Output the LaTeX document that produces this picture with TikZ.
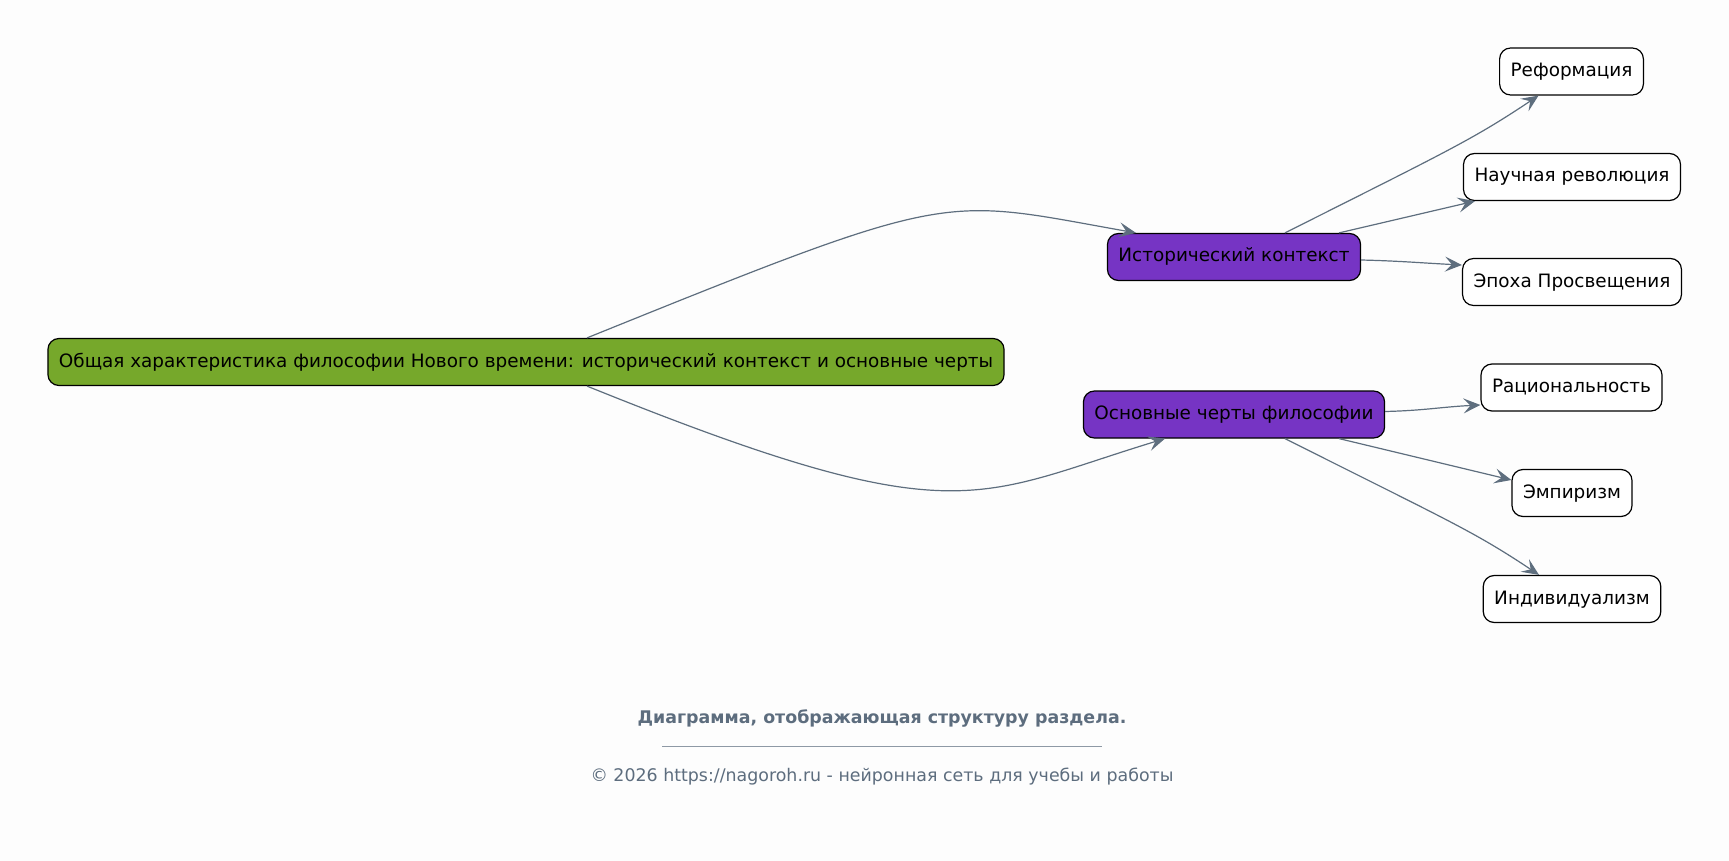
\documentclass[tikz,border=0pt]{standalone}
\usepackage{fontspec}
\setmainfont{DejaVu Sans}
\usepackage{xcolor}
\usepackage{tikz}
\usetikzlibrary{shapes.geometric, arrows.meta, positioning}
\definecolor{rootgreen}{HTML}{76A82B}
\definecolor{topicviolet}{HTML}{7634C4}
\definecolor{edgegray}{HTML}{5E6E7E}
\definecolor{footgray}{HTML}{5D6D7E}
\definecolor{paper}{HTML}{FDFDFD}
\tikzstyle{box} = [rectangle, rounded corners=5.5pt, 
minimum height=23.5pt, 
inner xsep=5.5pt, 
text height=7pt, text depth=2pt, 
text centered, 
draw=black, line width=0.6pt, 
font=\fontsize{9.2}{11}\selectfont]
\tikzstyle{root-box} = [box, fill=rootgreen]
\tikzstyle{topic-box} = [box, fill=topicviolet]
\tikzstyle{leaf-box} = [box, fill=white]
\tikzstyle{arrow} = [draw=edgegray, line width=0.6pt, ->, >={Stealth[length=8.5pt, width=7.5pt, inset=3.5pt]}]
\tikzstyle{footer} = [text=footgray, font=\fontsize{8.7}{10}\selectfont]

\begin{document}
\begin{tikzpicture}[x=0.5pt, y=-0.5pt]
            \fill [paper] (0,0) rectangle (1729,861);
            \useasboundingbox (0,0) rectangle (1729,861);

            \node (root) [root-box] at (526,362) {Общая характеристика философии Нового времени: исторический контекст и основные черты};
            \node (hist) [topic-box] at (1234,257) {Исторический контекст};
            \node (basic) [topic-box] at (1234,414.5) {Основные черты философии};

            \node (reform) [leaf-box] at (1571.5,71.5) {Реформация};
            \node (science) [leaf-box] at (1572,177) {Научная революция};
            \node (enlight) [leaf-box] at (1572,282) {Эпоха Просвещения};
            \node (ratio) [leaf-box] at (1571.5,387.5) {Рациональность};
            \node (empir) [leaf-box] at (1572,493) {Эмпиризм};
            \node (indiv) [leaf-box] at (1572,599) {Индивидуализм};

            \draw [arrow] ([xshift=30.5pt]root.north) .. controls +(371,-150) and +(-197,-35) .. ([xshift=-49pt]hist.north);
            \draw [arrow] ([xshift=30.5pt]root.south) .. controls +(371,150) and +(-191,58) .. ([xshift=-34.5pt]basic.south);

            \draw [arrow] ([xshift=25.5pt]hist.north) .. controls +(165,-83) and +(-66,44) .. ([xshift=-16.5pt]reform.south);
            \draw [arrow] ([xshift=52.5pt]hist.north) -- ([xshift=-48.5pt]science.south);
            \draw [arrow] ([yshift=-1.5pt]hist.east) .. controls +(40,1) and +(-40,-2) .. ([yshift=8.5pt]enlight.west);

            \draw [arrow] ([yshift=1.5pt]basic.east) .. controls +(40,-1) and +(-40,2) .. ([yshift=-8.75pt]ratio.west);
            \draw [arrow] ([xshift=52.5pt]basic.south) -- ([yshift=6.5pt]empir.west);
            \draw [arrow] ([xshift=25.5pt]basic.south) .. controls +(165,83) and +(-66,-44) .. ([xshift=-16.5pt]indiv.north);

            \node (caption) [footer, font=\fontsize{8.7}{10}\selectfont\bfseries] at (882,718) {Диаграмма, отображающая структуру раздела.};
            \node (rule) [footer, text=footgray!70] at (882,746) {\rule{220pt}{0.35pt}};
            \node (copy) [footer] at (882,777) {© 2026 https://nagoroh.ru - нейронная сеть для учебы и работы};
        \end{tikzpicture}
\end{document}
